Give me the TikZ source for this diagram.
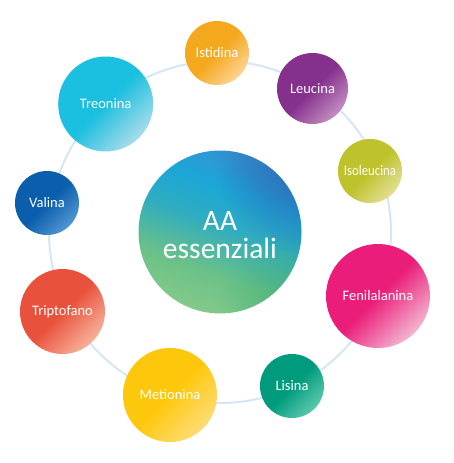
\documentclass[tikz,border=0pt]{standalone}
\usepackage{fontspec}
\setmainfont{Carlito}
\usetikzlibrary{fadings}
\definecolor{ringc}{HTML}{D5E6F4}
\definecolor{aa1}{HTML}{88CB8B}
\definecolor{aa2}{HTML}{6CC187}
\definecolor{aa3}{HTML}{2FACC0}
\definecolor{aa4}{HTML}{1CA6D8}
\definecolor{aa5}{HTML}{3A8FD2}
\definecolor{aadk}{HTML}{2E5DAC}
\definecolor{aagr}{HTML}{30A86A}
\definecolor{istA}{HTML}{F4A81E}\definecolor{istB}{HTML}{FDD494}
\definecolor{treA}{HTML}{1BBFDF}\definecolor{treB}{HTML}{A8DDEB}
\definecolor{leuA}{HTML}{85308C}\definecolor{leuB}{HTML}{C38FC2}
\definecolor{isoA}{HTML}{BEC22C}\definecolor{isoB}{HTML}{E2DF92}
\definecolor{fenA}{HTML}{EA1E7A}\definecolor{fenB}{HTML}{F3B6D1}
\definecolor{lisA}{HTML}{009B7D}\definecolor{lisB}{HTML}{5CC8AE}
\definecolor{metA}{HTML}{FDC80C}\definecolor{metB}{HTML}{FEDC76}
\definecolor{triA}{HTML}{E8523D}\definecolor{triB}{HTML}{F7B29B}
\definecolor{valA}{HTML}{0B5EAC}\definecolor{valB}{HTML}{5196D3}
\tikzfading[name=glow, inner color=transparent!0, outer color=transparent!100]
\pgfdeclareverticalshading{aash}{100bp}{color(0bp)=(aa1); color(25bp)=(aa1); color(38bp)=(aa2); color(52bp)=(aa3); color(62bp)=(aa4); color(75bp)=(aa5); color(100bp)=(aa5)}
\tikzset{
  ball/.style n args={2}{circle, inner sep=0pt, text=white,
    font=\fontsize{14.5}{16}\selectfont,
    top color=#1, bottom color=#2, middle color=#1, shading angle=45},
  ringline/.style={draw=ringc, line width=2pt},
}
\begin{document}
\begin{tikzpicture}[x=1pt,y=-1pt]
\useasboundingbox (0,0) rectangle (453,463);
\path[ringline] (220,232) circle (171);
% central circle
\node[circle, inner sep=0pt, minimum size=163pt] (aa) at (220,232) {};
\begin{scope}
  \clip (220,232) circle (81.5);
  \shade[shading=aash, shading angle=-20] (130,142) rectangle (310,322);
  \fill[aagr, path fading=glow, fill opacity=0.5] (295,305) circle (75);
  \fill[aadk, path fading=glow, fill opacity=0.9] (310,160) circle (95);
\end{scope}
\node[text=white, align=center, font=\fontsize{29.5}{28}\selectfont] (aat) at (220,235) {AA\\essenziali};
% satellites
\node[ball={istA}{istB}, minimum size=64pt] (ist) at (217,53) {Istidina};
\node[ball={leuA}{leuB}, minimum size=71pt] (leu) at (312.5,88.5) {Leucina};
\node[ball={isoA}{isoB}, minimum size=64pt] (iso) at (370,171) {\scalebox{0.88}[1]{Isoleucina}};
\node[ball={fenA}{fenB}, minimum size=104pt] (fen) at (378,296) {Fenilalanina};
\node[ball={lisA}{lisB}, minimum size=64pt] (lis) at (292,386) {Lisina};
\node[ball={metA}{metB}, minimum size=94pt] (met) at (170,395) {Metionina};
\node[ball={triA}{triB}, minimum size=85pt] (tri) at (62.5,311.5) {Triptofano};
\node[ball={valA}{valB}, minimum size=64pt] (val) at (47,203) {Valina};
\node[ball={treA}{treB}, minimum size=95pt] (tre) at (105.7,104) {Treonina};
\end{tikzpicture}
\end{document}
